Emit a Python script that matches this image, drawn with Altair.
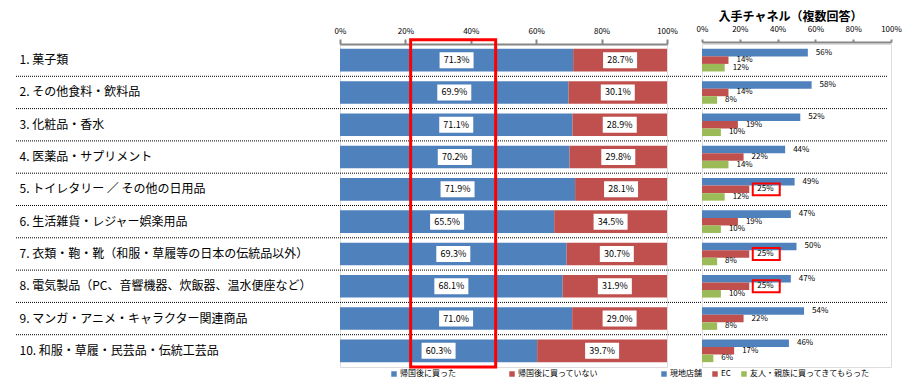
import altair as alt
import pandas as pd

# ---------------- data ----------------
categories = [
    "1. 菓子類",
    "2. その他食料・飲料品",
    "3. 化粧品・香水",
    "4. 医薬品・サプリメント",
    "5. トイレタリー ／ その他の日用品",
    "6. 生活雑貨・レジャー娯楽用品",
    "7. 衣類・鞄・靴（和服・草履等の日本の伝統品以外）",
    "8. 電気製品（PC、音響機器、炊飯器、温水便座など）",
    "9. マンガ・アニメ・キャラクター関連商品",
    "10. 和服・草履・民芸品・伝統工芸品",
]
main_series = ["帰国後に買った", "帰国後に買っていない"]
bought = [71.3, 69.9, 71.1, 70.2, 71.9, 65.5, 69.3, 68.1, 71.0, 60.3]
not_bought = [28.7, 30.1, 28.9, 29.8, 28.1, 34.5, 30.7, 31.9, 29.0, 39.7]

channel_series = ["現地店舗", "EC", "友人・親族に買ってきてもらった"]
store = [56, 58, 52, 44, 49, 47, 50, 47, 54, 46]
ec = [14, 14, 19, 22, 25, 19, 25, 25, 22, 17]
friends = [12, 8, 10, 14, 12, 10, 8, 10, 8, 6]
ec_boxed_rows = [5, 7, 8]          # rows whose EC label is boxed in red

tick_values = [0, 20, 40, 60, 80, 100]
highlight_x = [21.6, 47.6]          # red highlight band on the main chart (%)
right_title = "入手チャネル（複数回答）"

# ---------------- styling ----------------
FONT = "Noto Sans CJK JP"
BLUE, RED, GREEN = "#4F81BD", "#C0504D", "#9BBB59"
AXIS_GRAY = "#868686"
W1, W2, H = 327, 189, 323
N = len(categories)

# ---------------- tables ----------------
rows = []
for c, b, n in zip(categories, bought, not_bought):
    rows.append(dict(cat=c, series=main_series[0], start=0.0, end=b, value=b))
    rows.append(dict(cat=c, series=main_series[1], start=b, end=b + n, value=n))
main_df = pd.DataFrame(rows)
main_df["mid"] = (main_df["start"] + main_df["end"]) / 2
main_df["label"] = main_df["value"].map(lambda v: f"{v:.1f}%")

crow = []
for i, c in enumerate(categories):
    for s, v in zip(channel_series, (store[i], ec[i], friends[i])):
        crow.append(dict(cat=c, channel=s, value=v, label=f"{v}%",
                         boxed=bool(s == "EC" and (i + 1) in ec_boxed_rows)))
ch_df = pd.DataFrame(crow)

sep_df = pd.DataFrame({"b": list(range(1, N))})
hl_df = pd.DataFrame({"x": [highlight_x[0]], "x2": [highlight_x[1]],
                      "y": [-0.13], "y2": [N]})

# ---------------- scales / axes ----------------
ysc = alt.Scale(domain=categories, paddingInner=0.3, paddingOuter=0.15)
bsc = alt.Scale(domain=[0, N], reverse=True, nice=False, zero=False)
x_main_sc = alt.Scale(domain=[0, 100], nice=False)
x_right_sc = alt.Scale(domain=[0, 100], nice=False)


def top_axis(tick_size, label_pad, offset=0):
    return alt.Axis(orient="top", values=tick_values, labelExpr="datum.value + '%'",
                    title=None, grid=False, domainColor=AXIS_GRAY, domainWidth=2,
                    tickColor=AXIS_GRAY, tickWidth=2, tickSize=tick_size,
                    labelPadding=label_pad, labelFontSize=8, labelFont=FONT,
                    labelColor="#000000", offset=offset, labelOverlap=False,
                    labelFlush=False)


main_x_axis = top_axis(5, 4)
right_x_axis = top_axis(3, 6, 2)

BOX_MAIN = "M-1,-0.47H1V0.47H-1Z"
BOX_RED = "M-1,-0.44H1V0.44H-1Z"

cat_axis = alt.Axis(title=None, ticks=False, tickSize=0, domain=False,
                    labelAlign="left", labelPadding=321, labelLimit=600,
                    labelFontSize=12, labelFont=FONT, labelColor="#000000")

# ---------------- main stacked chart ----------------
bars = alt.Chart(main_df).mark_bar(cornerRadius=0).encode(
    x=alt.X("start:Q", scale=x_main_sc, axis=main_x_axis),
    x2="end:Q",
    y=alt.Y("cat:N", scale=ysc, sort=categories, axis=cat_axis),
    color=alt.Color("series:N", scale=alt.Scale(domain=main_series, range=[BLUE, RED]),
                    legend=alt.Legend(title=None, orient="none", legendX=50, legendY=326,
                                      direction="horizontal", symbolType="square",
                                      symbolSize=30, symbolStrokeWidth=0,
                                      labelFontSize=8, labelFont=FONT, labelColor="#000000",
                                      columnPadding=52, labelOffset=2, padding=0)),
)
boxes = alt.Chart(main_df).mark_point(shape=BOX_MAIN, size=1156, filled=True,
                                      fill="white", opacity=1, strokeWidth=0).encode(
    x=alt.X("mid:Q", scale=x_main_sc, axis=main_x_axis),
    y=alt.Y("cat:N", scale=ysc, sort=categories, axis=cat_axis))
labels = alt.Chart(main_df).mark_text(font=FONT, fontSize=9, color="#000000").encode(
    x=alt.X("mid:Q", scale=x_main_sc, axis=main_x_axis),
    y=alt.Y("cat:N", scale=ysc, sort=categories, axis=cat_axis), text="label:N")

seps = alt.Chart(sep_df).mark_rule(color="#000000", strokeWidth=1, strokeDash=[1, 1]).encode(
    y=alt.Y("b:Q", scale=bsc, axis=None), x=alt.value(-324), x2=alt.value(548))
hl = alt.Chart(hl_df).mark_rect(fillOpacity=0, stroke="#FF0000", strokeWidth=3).encode(
    x=alt.X("x:Q", scale=x_main_sc, axis=main_x_axis), x2="x2:Q",
    y=alt.Y("y:Q", scale=bsc, axis=None), y2="y2:Q")

main = alt.layer(alt.layer(bars, boxes, labels), alt.layer(seps, hl)).resolve_scale(
    y="independent").properties(width=W1, height=H)

# ---------------- right grouped chart ----------------
yoff = alt.YOffset("channel:N", sort=channel_series,
                   scale=alt.Scale(domain=channel_series, paddingInner=0, paddingOuter=0))
rbars = alt.Chart(ch_df).mark_bar(cornerRadius=0).encode(
    x=alt.X("value:Q", scale=x_right_sc, axis=right_x_axis),
    y=alt.Y("cat:N", scale=ysc, sort=categories, axis=None),
    yOffset=yoff,
    color=alt.Color("channel:N", scale=alt.Scale(domain=channel_series, range=[BLUE, RED, GREEN]),
                    legend=alt.Legend(title=None, orient="none", legendX=-42, legendY=326,
                                      direction="horizontal", symbolType="square",
                                      symbolSize=30, symbolStrokeWidth=0,
                                      labelFontSize=8, labelFont=FONT, labelColor="#000000",
                                      columnPadding=9, labelOffset=2, padding=0)),
)
rtext = alt.Chart(ch_df).mark_text(align="left", dx=8, font=FONT, fontSize=8,
                                   color="#000000").encode(
    x=alt.X("value:Q", scale=x_right_sc, axis=right_x_axis),
    y=alt.Y("cat:N", scale=ysc, sort=categories, axis=None),
    yOffset=yoff, text="label:N")
rbox = alt.Chart(ch_df).transform_filter("datum.boxed").mark_point(
    shape=BOX_RED, size=729, filled=False, stroke="#FF0000", strokeWidth=2,
    opacity=1, xOffset=17).encode(
    x=alt.X("value:Q", scale=x_right_sc, axis=right_x_axis),
    y=alt.Y("cat:N", scale=ysc, sort=categories, axis=None), yOffset=yoff)

right = alt.layer(rbars, rtext, rbox).properties(
    width=W2, height=H,
    title=alt.TitleParams(right_title, font=FONT, fontSize=12, fontWeight="bold",
                          anchor="middle", offset=1, dx=-6, color="#000000"))

chart = alt.hconcat(main, right, spacing=35, bounds="flush").resolve_scale(
    color="independent", x="independent", y="independent").properties(
    padding={"left": 7, "top": 2, "right": 5, "bottom": 5}).configure_view(
    stroke=None).configure_axis(labelOverlap=False).configure(background="white")

chart.save("out.html", embed_options={"renderer": "svg", "actions": False})
